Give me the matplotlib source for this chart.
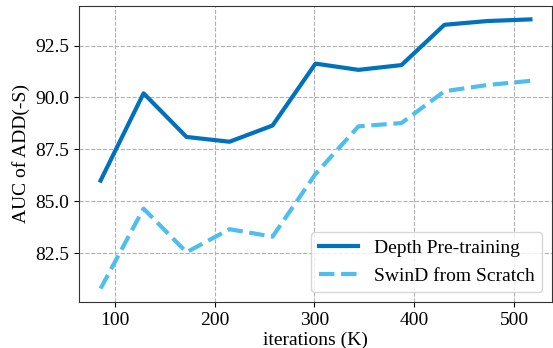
import matplotlib
matplotlib.use("Agg")
import matplotlib.pyplot as plt

# =========================
# DATA
# =========================
iterations = [86, 129, 172, 215, 258, 301, 344, 387, 430, 473, 516]
depth_pretrain = [86.0, 90.2, 88.1, 87.87, 88.65, 91.63, 91.33, 91.56, 93.5, 93.68, 93.76]
swind_scratch = [80.8, 84.65, 82.55, 83.66, 83.3, 86.32, 88.61, 88.77, 90.3, 90.6, 90.8]

labels = ["Depth Pre-training", "SwinD from Scratch"]

# =========================
# PLOT
# =========================
plt.rcParams["font.family"] = ["Liberation Serif", "DejaVu Serif"]
plt.rcParams["font.size"] = 14

fig, ax = plt.subplots(figsize=(5.53, 3.48), dpi=100)
fig.subplots_adjust(left=0.143, right=0.998, top=0.983, bottom=0.132)

ax.plot(iterations, depth_pretrain, color="#0072BD", lw=3, label=labels[0])
ax.plot(iterations, swind_scratch, color="#4DBEEE", lw=3, ls="--", label=labels[1])

ax.set_yticks([82.5, 85.0, 87.5, 90.0, 92.5])
ax.set_xticks([100, 200, 300, 400, 500])
ax.grid(True, ls="--", color="#b0b0b0", lw=0.8)
ax.set_axisbelow(True)
for sp in ax.spines.values():
    sp.set_color("#333333")

ax.set_xlabel("iterations (K)", labelpad=2)
ax.set_ylabel("AUC of ADD(-S)")
ax.legend(loc="lower right", fontsize=14)

fig.savefig("out.png", dpi=100)
